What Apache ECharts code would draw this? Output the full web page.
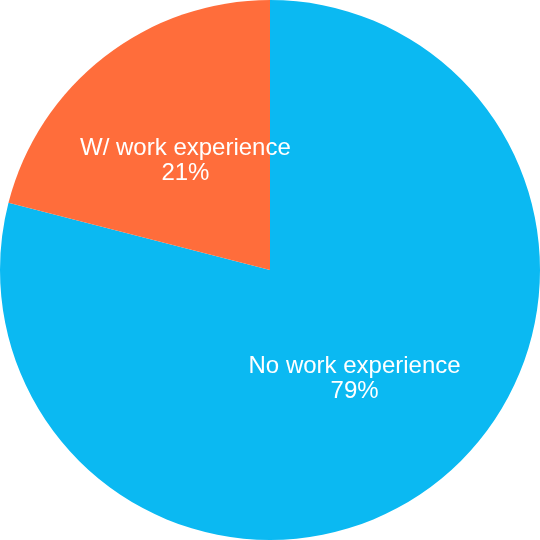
<!DOCTYPE html>
<html><head><meta charset="utf-8">
<script src="https://cdn.jsdelivr.net/npm/echarts@6/dist/echarts.min.js"></script>
<style>html,body{margin:0;padding:0;background:#fff}#c{width:540px;height:540px}</style>
</head><body><div id="c"></div>
<script>
const categories = ["No work experience", "W/ work experience"];
const values = [79, 21];
const colors = ["#0bb9f2", "#ff6d3b"];

const chart = echarts.init(document.getElementById('c'), null, {renderer: 'canvas'});
chart.setOption({
  animation: false,
  series: [{
    type: 'pie',
    center: ['50%', '50%'],
    radius: ['0%', '100%'],
    startAngle: 90,
    clockwise: true,
    data: categories.map((c, i) => ({name: c, value: values[i], itemStyle: {color: colors[i]}})),
    label: {
      position: 'inside',
      formatter: p => p.name + '\n' + p.value + '%',
      color: '#fff',
      fontFamily: 'Liberation Sans, Arial, sans-serif',
      fontSize: 24,
      lineHeight: 25,
      align: 'center'
    },
    labelLine: {show: false},
    emphasis: {disabled: true}
  }]
});
</script></body></html>
